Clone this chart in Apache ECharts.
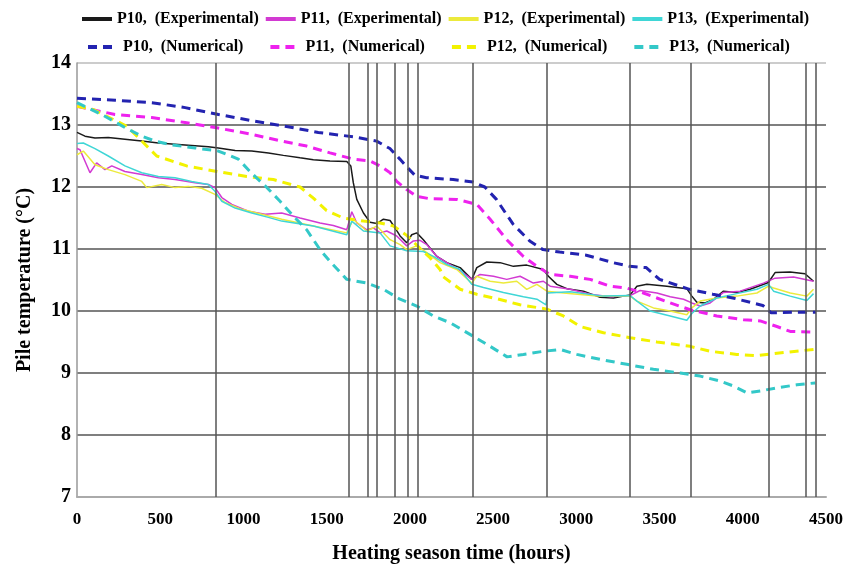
<!DOCTYPE html>
<html>
<head>
<meta charset="utf-8">
<title>Pile temperature</title>
<script src="https://cdn.jsdelivr.net/npm/echarts@6/dist/echarts.min.js"></script>
<style>
  html,body{margin:0;padding:0;background:#fff;}
  #main{width:850px;height:568px;}
</style>
</head>
<body>
<div id="main"></div>
<script>
// [hours, temperature]
var p10Exp = [[0,12.88],[48,12.82],[108,12.79],[188,12.8],[288,12.77],[389,12.74],[489,12.71],[589,12.69],[689,12.67],[789,12.65],[849,12.63],[950,12.59],[1050,12.58],[1150,12.55],[1240,12.51],[1340,12.47],[1420,12.44],[1520,12.42],[1621,12.41],[1645,12.34],[1660,12.07],[1681,11.8],[1721,11.58],[1761,11.43],[1801,11.41],[1841,11.48],[1881,11.46],[1911,11.34],[1941,11.21],[1981,11.1],[2011,11.23],[2041,11.26],[2081,11.15],[2111,11.05],[2162,10.88],[2222,10.78],[2302,10.7],[2372,10.51],[2402,10.7],[2462,10.79],[2542,10.78],[2622,10.72],[2702,10.74],[2802,10.67],[2832,10.56],[2883,10.43],[2943,10.36],[3043,10.32],[3143,10.22],[3223,10.21],[3323,10.26],[3364,10.4],[3424,10.43],[3544,10.4],[3664,10.36],[3694,10.24],[3724,10.14],[3774,10.13],[3824,10.19],[3884,10.32],[3964,10.3],[4044,10.35],[4154,10.46],[4194,10.62],[4284,10.63],[4374,10.6],[4425,10.48]];
var p11Exp = [[0,12.62],[18,12.6],[78,12.23],[118,12.39],[168,12.28],[209,12.34],[288,12.25],[389,12.2],[489,12.15],[589,12.12],[709,12.07],[789,12.04],[829,11.99],[870,11.83],[930,11.72],[1029,11.61],[1130,11.56],[1230,11.58],[1340,11.5],[1460,11.42],[1540,11.38],[1621,11.31],[1651,11.6],[1681,11.42],[1741,11.31],[1781,11.34],[1821,11.26],[1861,11.29],[1921,11.21],[1981,11.05],[2021,11.13],[2061,11.14],[2102,11.07],[2162,10.88],[2222,10.78],[2302,10.65],[2372,10.51],[2422,10.59],[2502,10.56],[2582,10.51],[2662,10.56],[2742,10.45],[2802,10.48],[2843,10.4],[2963,10.35],[3083,10.27],[3203,10.23],[3323,10.25],[3383,10.33],[3484,10.29],[3564,10.23],[3644,10.19],[3694,10.13],[3744,10.08],[3804,10.13],[3884,10.3],[3984,10.32],[4124,10.45],[4194,10.53],[4305,10.55],[4425,10.48]];
var p12Exp = [[0,12.52],[38,12.58],[108,12.36],[188,12.28],[288,12.2],[389,12.09],[419,11.99],[509,12.04],[589,11.99],[669,12.01],[749,11.98],[829,11.88],[889,11.75],[990,11.64],[1110,11.56],[1230,11.48],[1420,11.37],[1621,11.26],[1660,11.48],[1741,11.29],[1801,11.37],[1881,11.15],[1941,11.07],[1981,10.99],[2041,11.05],[2102,10.94],[2181,10.78],[2282,10.67],[2372,10.45],[2402,10.56],[2482,10.48],[2562,10.45],[2642,10.48],[2702,10.35],[2763,10.43],[2823,10.32],[2923,10.29],[3123,10.24],[3323,10.24],[3364,10.16],[3463,10.05],[3564,10.0],[3664,9.94],[3694,10.05],[3744,10.16],[3844,10.21],[3964,10.24],[4085,10.29],[4155,10.4],[4185,10.37],[4285,10.29],[4385,10.24],[4425,10.35]];
var p13Exp = [[0,12.7],[38,12.71],[108,12.62],[188,12.5],[288,12.34],[389,12.23],[489,12.17],[589,12.15],[689,12.09],[789,12.04],[829,11.93],[870,11.77],[950,11.66],[1050,11.58],[1150,11.51],[1230,11.45],[1420,11.37],[1621,11.23],[1651,11.45],[1721,11.29],[1821,11.26],[1881,11.05],[1981,10.97],[2081,10.96],[2141,10.88],[2222,10.75],[2302,10.67],[2372,10.43],[2442,10.38],[2562,10.3],[2682,10.23],[2763,10.19],[2818,10.1],[2826,10.29],[2963,10.31],[3163,10.24],[3323,10.25],[3364,10.16],[3443,10.0],[3564,9.92],[3664,9.85],[3694,9.96],[3744,10.08],[3844,10.21],[3964,10.28],[4085,10.35],[4155,10.43],[4185,10.32],[4285,10.24],[4385,10.17],[4425,10.28]];

var p10Num = [[0,13.43],[230,13.4],[450,13.36],[650,13.28],[850,13.17],[1050,13.07],[1250,12.98],[1450,12.88],[1660,12.81],[1800,12.74],[1880,12.62],[1940,12.45],[1990,12.3],[2030,12.19],[2100,12.15],[2260,12.12],[2380,12.08],[2450,12.0],[2520,11.8],[2620,11.4],[2720,11.13],[2800,10.99],[2900,10.95],[3060,10.9],[3220,10.78],[3320,10.72],[3420,10.7],[3500,10.51],[3680,10.35],[3820,10.27],[3940,10.21],[4120,10.09],[4170,9.97],[4300,9.98],[4440,9.98]];
var p11Num = [[0,13.3],[228,13.17],[449,13.12],[649,13.04],[849,12.95],[1050,12.85],[1230,12.74],[1380,12.66],[1520,12.55],[1660,12.45],[1761,12.42],[1821,12.34],[1881,12.23],[1921,12.09],[1981,11.96],[2041,11.85],[2121,11.81],[2282,11.8],[2402,11.72],[2482,11.48],[2582,11.15],[2682,10.88],[2763,10.72],[2843,10.59],[2963,10.56],[3083,10.51],[3203,10.4],[3303,10.37],[3403,10.29],[3484,10.21],[3564,10.13],[3684,10.02],[3844,9.92],[4004,9.86],[4105,9.84],[4205,9.75],[4285,9.67],[4425,9.66]];
var p12Num = [[0,13.3],[98,13.25],[299,12.98],[379,12.77],[479,12.5],[659,12.34],[840,12.25],[1020,12.17],[1180,12.12],[1340,12.0],[1420,11.82],[1500,11.62],[1600,11.5],[1721,11.45],[1821,11.42],[1901,11.37],[1981,11.22],[2061,11.01],[2121,10.86],[2181,10.67],[2201,10.55],[2302,10.35],[2402,10.27],[2520,10.2],[2662,10.1],[2823,10.03],[2922,9.92],[3023,9.75],[3163,9.65],[3323,9.57],[3484,9.5],[3684,9.43],[3804,9.35],[3964,9.3],[4085,9.28],[4245,9.33],[4425,9.38]];
var p13Num = [[0,13.36],[148,13.17],[288,12.96],[389,12.82],[469,12.74],[569,12.68],[709,12.63],[849,12.58],[969,12.45],[1050,12.22],[1130,12.02],[1220,11.77],[1300,11.53],[1380,11.31],[1460,10.99],[1520,10.8],[1621,10.51],[1741,10.45],[1841,10.35],[1941,10.19],[2041,10.08],[2141,9.92],[2242,9.81],[2382,9.59],[2482,9.43],[2584,9.26],[2682,9.3],[2802,9.35],[2903,9.38],[3003,9.3],[3143,9.22],[3303,9.14],[3463,9.06],[3624,9.0],[3744,8.95],[3864,8.87],[3944,8.79],[4025,8.68],[4105,8.71],[4205,8.76],[4325,8.81],[4435,8.84]];

// vertical grid lines of the original figure (hours)
var vLines = [835,1635,1749,1803,1911,1989,2049,2380,2825,3323,3690,4159,4381,4441];

var expNames = ['P10,  (Experimental)','P11,  (Experimental)','P12,  (Experimental)','P13,  (Experimental)'];
var numNames = ['P10,  (Numerical)','P11,  (Numerical)','P12,  (Numerical)','P13,  (Numerical)'];
var expColors = ['#1a1a1a','#d23ad2','#ecea3c','#3fd6d6'];
var numColors = ['#2323b0','#ee22ee','#f2f200','#33c8c8'];

var font = '"Liberation Serif", "DejaVu Serif", serif';
var expData = [p10Exp,p11Exp,p12Exp,p13Exp];
var numData = [p10Num,p11Num,p12Num,p13Num];

var series = [];
for (var i = 0; i < 4; i++) {
  series.push({
    name: expNames[i],
    type: 'line',
    data: expData[i],
    symbol: 'none',
    z: 3,
    lineStyle: {color: expColors[i], width: 1.5},
    itemStyle: {color: expColors[i]}
  });
}
for (var j = 0; j < 4; j++) {
  series.push({
    name: numNames[j],
    type: 'line',
    data: numData[j],
    symbol: 'none',
    z: 4,
    lineStyle: {color: numColors[j], width: 3, type: [9, 6]},
    itemStyle: {color: numColors[j]}
  });
}
// vertical lines hang on the first series
series[0].markLine = {
  silent: true,
  symbol: 'none',
  animation: false,
  label: {show: false},
  lineStyle: {color: '#555', width: 1.5, type: 'solid'},
  data: vLines.map(function (h) { return {xAxis: h}; })
};

var legendText = {fontFamily: font, fontWeight: 'bold', fontSize: 16, color: '#000'};

var option = {
  animation: false,
  backgroundColor: '#fff',
  grid: {left: 77, right: 24, top: 63, bottom: 71, outerBoundsMode: 'none'},
  legend: [
    {data: expNames, left: 75, top: 6, itemWidth: 30, itemHeight: 12, itemGap: 5,
     itemStyle: {opacity: 0}, lineStyle: {width: 4}, textStyle: legendText},
    {data: numNames, left: 81, top: 34, itemWidth: 30, itemHeight: 12, itemGap: 25,
     itemStyle: {opacity: 0}, lineStyle: {width: 4}, textStyle: legendText}
  ],
  xAxis: {
    type: 'value', min: 0, max: 4500, interval: 500,
    name: 'Heating season time (hours)', nameLocation: 'middle', nameGap: 47,
    nameTextStyle: {fontFamily: font, fontWeight: 'bold', fontSize: 20, color: '#000'},
    axisLine: {show: true, lineStyle: {color: '#aaa', width: 2}},
    axisTick: {show: false},
    splitLine: {show: false},
    axisLabel: {fontFamily: font, fontWeight: 'bold', fontSize: 17, color: '#000', margin: 14,
      formatter: function (v) { return String(v); }}
  },
  yAxis: {
    type: 'value', min: 7, max: 14, interval: 1,
    name: 'Pile temperature (°C)', nameLocation: 'middle', nameGap: 42, nameRotate: 90,
    nameTextStyle: {fontFamily: font, fontWeight: 'bold', fontSize: 20, color: '#000'},
    axisLine: {show: true, lineStyle: {color: '#999', width: 1.5}},
    axisTick: {show: false},
    splitLine: {show: true, lineStyle: {color: ['#bbb','#555','#555','#555','#555','#555','#555','#bbb'], width: 1.5}},
    axisLabel: {fontFamily: font, fontWeight: 'bold', fontSize: 20, color: '#000', margin: 6}
  },
  series: series
};

var chart = echarts.init(document.getElementById('main'));
chart.setOption(option);
</script>
</body>
</html>
